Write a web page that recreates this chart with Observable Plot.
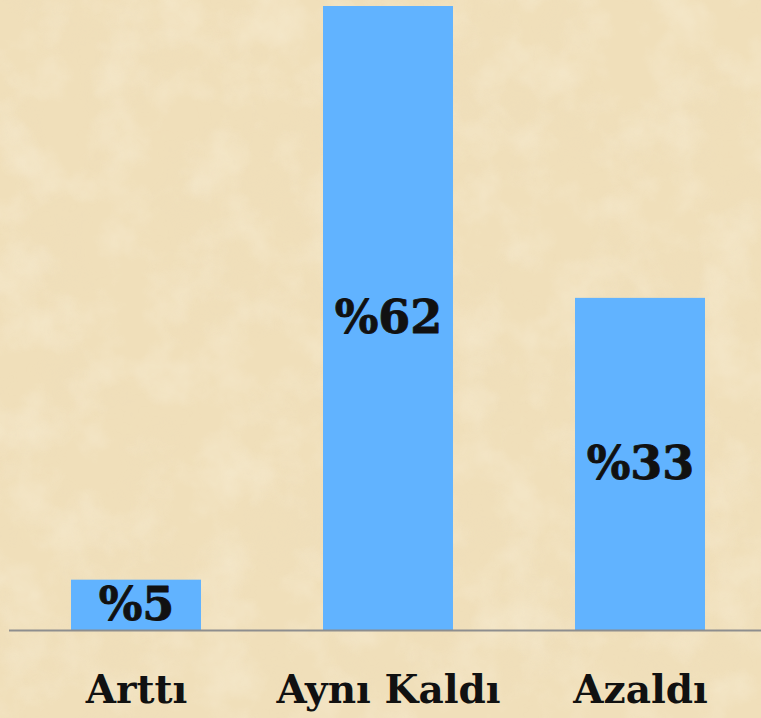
<!DOCTYPE html>
<html>
<head>
<meta charset="utf-8">
<script src="https://cdn.jsdelivr.net/npm/d3@7"></script>
<script src="https://cdn.jsdelivr.net/npm/@observablehq/plot@0.6"></script>
<style>
  html, body { margin: 0; padding: 0; background: #F0DFBA; }
  #chart { position: relative; width: 761px; height: 718px; overflow: hidden; }
  #bg { position: absolute; left: 0; top: 0; }
  #plot { position: absolute; left: 0; top: 0; }
</style>
</head>
<body>
<div id="chart">
  <svg id="bg" width="761" height="718">
    <filter id="dark" x="0" y="0" width="100%" height="100%">
      <feTurbulence type="fractalNoise" baseFrequency="0.012" numOctaves="5" seed="7" result="n"/>
      <feColorMatrix in="n" type="matrix"
        values="0 0 0 0 0.84
                0 0 0 0 0.72
                0 0 0 0 0.50
                0 0 0 1.3 -0.55" />
    </filter>
    <filter id="light" x="0" y="0" width="100%" height="100%">
      <feTurbulence type="fractalNoise" baseFrequency="0.02" numOctaves="4" seed="21" result="n"/>
      <feColorMatrix in="n" type="matrix"
        values="0 0 0 0 0.99
                0 0 0 0 0.96
                0 0 0 0 0.86
                0 0 0 1.3 -0.55" />
    </filter>
    <rect width="761" height="718" fill="#F0DFBA"/>
    <rect width="761" height="718" filter="url(#dark)" opacity="0.35"/>
    <rect width="761" height="718" filter="url(#light)" opacity="0.45"/>
  </svg>
  <div id="plot"></div>
</div>
<script>
const categories = ["Arttı", "Aynı Kaldı", "Azaldı"];
const values = [5, 62, 33];
const valueLabels = ["%5", "%62", "%33"];

const data = categories.map((c, i) => ({category: c, value: values[i], label: valueLabels[i]}));

const font = "'DejaVu Serif', serif";

const chart = Plot.plot({
  width: 761,
  height: 718,
  marginLeft: 9,
  marginRight: 0,
  marginTop: 6,
  marginBottom: 88,
  style: {background: "transparent", fontFamily: font, color: "#111"},
  x: {domain: categories, range: [9, 766], paddingInner: 0.486, paddingOuter: 0.241, label: null},
  y: {domain: [0, 62], range: [630, 6], axis: null},
  marks: [
    Plot.barY(data, {x: "category", y: "value", fill: "#61B3FF"}),
    Plot.ruleY([0], {stroke: "#8E8E8E", strokeWidth: 2}),
    Plot.text(data, {x: "category", y: d => d.value / 2, text: "label", fontSize: 46, fontWeight: "bold", fill: "#111", stroke: "#111", strokeWidth: 0.8, fontFamily: font}),
    Plot.axisX({tickSize: 0, tickPadding: 45, fontSize: 39, fontWeight: "bold", fill: "#111", stroke: "#111", strokeWidth: 0.6, fontFamily: font, label: null})
  ]
});
document.getElementById("plot").appendChild(chart);
</script>
</body>
</html>
